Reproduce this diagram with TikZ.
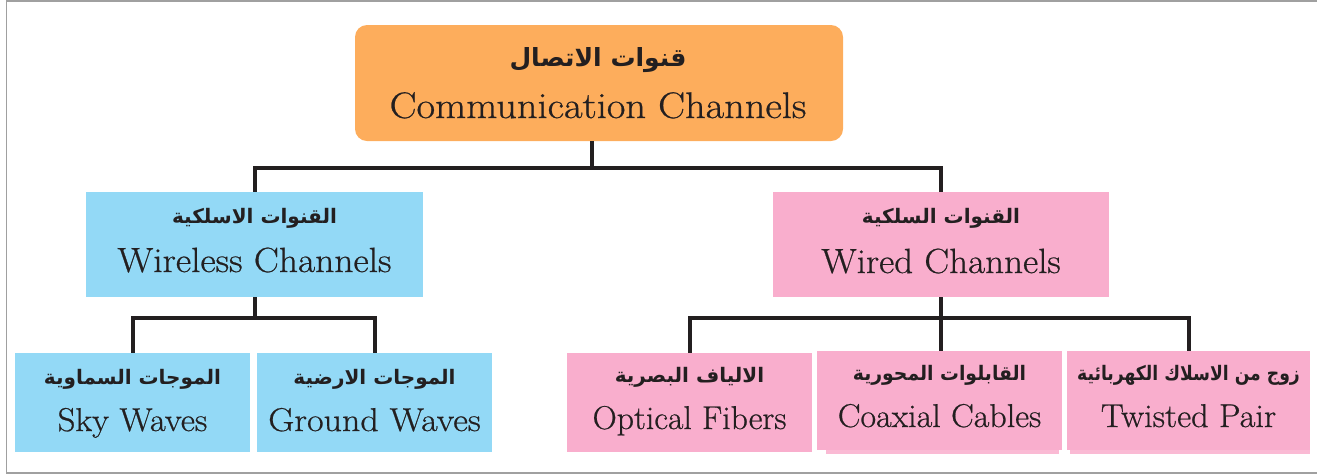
\documentclass[tikz,border=0pt]{standalone}
\usepackage{fontspec}
\usepackage{graphicx}
\TeXXeTstate=1
\setmainfont{Latin Modern Roman}[FakeBold=0.6]
\newfontfamily\arfont[Script=Arabic]{DejaVu Sans}
\newcommand\sx[2]{\scalebox{#1}[1]{#2}}
\definecolor{orangec}{RGB}{253,173,92}
\definecolor{bluec}{RGB}{147,217,246}
\definecolor{pinkc}{RGB}{249,174,205}
\definecolor{linec}{RGB}{35,31,32}
\definecolor{bordc}{RGB}{160,160,160}
\begin{document}
\begin{tikzpicture}[x=1pt,y=-1pt,
  box/.style={rectangle, draw=none, inner sep=0pt},
  conn/.style={line width=4pt, draw=linec, line join=miter},
  ar/.style={font=\arfont\bfseries\fontsize{20}{24}\selectfont, text=linec, anchor=base, inner sep=0pt},
  artop/.style={ar, font=\arfont\bfseries\fontsize{25}{28}\selectfont},
  entop/.style={font=\fontsize{37}{42}\selectfont, text=linec, anchor=base, inner sep=0pt},
  enmid/.style={font=\fontsize{35}{40}\selectfont, text=linec, anchor=base, inner sep=0pt},
  enlow/.style={font=\fontsize{33}{38}\selectfont, text=linec, anchor=base, inner sep=0pt}]
\useasboundingbox (0,0) rectangle (1317,475);
\draw[bordc, line width=1.5pt] (1317,1) -- (6.5,1) -- (6.5,473) -- (1317,473);

% boxes
\node[box, fill=orangec, rounded corners=12pt, minimum width=488pt, minimum height=116pt] (comm) at (599,83) {};
\node[box, fill=bluec, minimum width=337pt, minimum height=105pt] (wless) at (254.5,244.5) {};
\node[box, fill=pinkc, minimum width=336pt, minimum height=105pt] (wired) at (941,244.5) {};
\node[box, fill=bluec, minimum width=235pt, minimum height=99pt] (sky) at (132.5,402.5) {};
\node[box, fill=bluec, minimum width=235pt, minimum height=99pt] (ground) at (374.5,402.5) {};
\node[box, fill=pinkc, minimum width=245pt, minimum height=99pt] (optical) at (689.5,402.5) {};
\node[box, fill=pinkc!85, minimum width=233pt, minimum height=99pt] (coaxsh) at (942,404) {};
\node[box, fill=pinkc, minimum width=245pt, minimum height=99pt] (coax) at (939.5,400.5) {};
\node[box, fill=pinkc!85, minimum width=240pt, minimum height=99pt] (twsh) at (1190,404) {};
\node[box, fill=pinkc, minimum width=243pt, minimum height=99pt] (twisted) at (1188.5,400.5) {};

% connectors
\coordinate (j1) at (592,168);
\coordinate (j2) at (254.5,318);
\coordinate (j3) at (941,318);
\draw[conn] (comm.south -| j1) -- (j1);
\draw[conn] (wless.north) |- (j1) -| (wired.north);
\draw[conn] (wless.south) -- (j2);
\draw[conn] (sky.north) |- (j2) -| (ground.north);
\draw[conn] (wired.south) -- (j3);
\draw[conn] (optical.north) |- (j3) -| (twisted.north);
\draw[conn] (j3) -- (j3 |- coax.north);

% texts
\node[artop] (commar) at (598,66) {\beginR قنوات الاتصال\endR};
\node[entop] (commen) at (598,118) {\sx{1.09}{Communication Channels}};
\node[ar] (wlessar) at (254.5,223) {\beginR القنوات الاسلكية\endR};
\node[enmid] (wlessen) at (254.5,272) {\sx{1.07}{Wireless Channels}};
\node[ar] (wiredar) at (941,223) {\beginR القنوات السلكية\endR};
\node[enmid] (wireden) at (941,273) {\sx{1.06}{Wired Channels}};
\node[ar] (skyar) at (132.5,384) {\beginR الموجات السماوية\endR};
\node[enlow] (skyen) at (132.5,431) {\sx{1.05}{Sky Waves}};
\node[ar] (groundar) at (374.5,384) {\beginR الموجات الارضية\endR};
\node[enlow] (grounden) at (374.5,431) {\sx{1.09}{Ground Waves}};
\node[ar] (opticalar) at (689.5,382) {\beginR الالياف البصرية\endR};
\node[enlow] (opticalen) at (689.5,429) {\sx{1.02}{Optical Fibers}};
\node[ar] (coaxar) at (939.5,380) {\sx{0.94}{\beginR القابلوات المحورية\endR}};
\node[enlow] (coaxen) at (939.5,427) {\sx{1.03}{Coaxial Cables}};
\node[ar] (twistedar) at (1188.5,380) {\sx{0.86}{\beginR زوج من الاسلاك الكهربائية\endR}};
\node[enlow] (twisteden) at (1188.5,427) {\sx{1.04}{Twisted Pair}};
\end{tikzpicture}
\end{document}
